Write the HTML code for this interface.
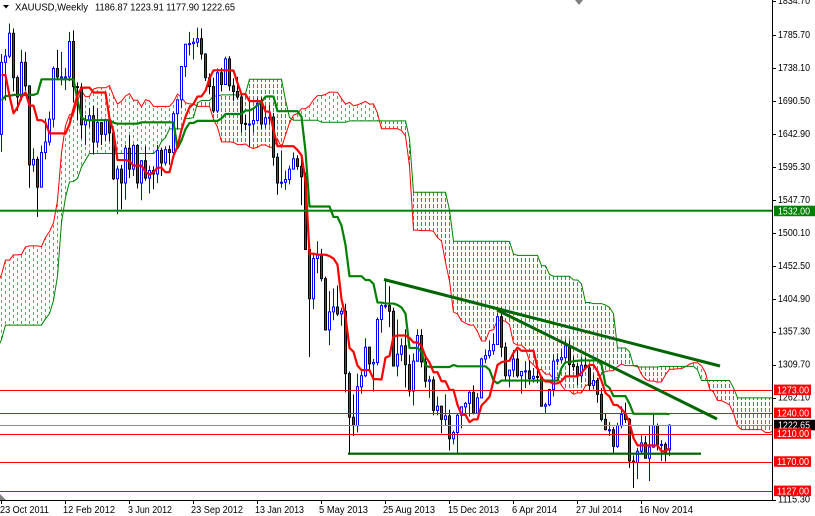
<!DOCTYPE html>
<html><head><meta charset="utf-8">
<style>
html,body{margin:0;padding:0;background:#fff;}
svg{display:block;font-family:"Liberation Sans",sans-serif;}
</style></head>
<body>
<svg id="c" width="815" height="516" viewBox="0 0 815 516" xmlns="http://www.w3.org/2000/svg">
<defs>
<clipPath id="cp"><rect x="0" y="0" width="772" height="500"/></clipPath>
<pattern id="pg" patternUnits="userSpaceOnUse" x="1" y="0" width="8" height="6">
  <rect x="0" y="0" width="1" height="3" fill="#2fbf62"/>
  <rect x="4" y="3" width="1" height="3" fill="#2fbf62"/>
</pattern>
<pattern id="po" patternUnits="userSpaceOnUse" x="1" y="0" width="4" height="6">
  <rect x="0" y="0" width="1" height="4" fill="#ff4500"/>
</pattern>
</defs>
<rect width="815" height="516" fill="#fff"/>
<g id="chart" clip-path="url(#cp)">
  <g id="cloud"></g>
  <g id="spans"></g>
  <g id="candles"></g>
  <g id="ind"></g>
  <g id="objs">
    <rect x="0" y="209.7" width="772" height="2" fill="#008000"/>
    <rect x="0" y="390" width="772" height="1" fill="#ff0000"/>
    <rect x="0" y="413" width="772" height="1" fill="#ff0000"/>
    <rect x="0" y="425" width="772" height="1" fill="#8c8c8c"/>
    <rect x="0" y="434" width="772" height="1" fill="#ff0000"/>
    <rect x="0" y="462" width="772" height="1" fill="#ff0000"/>
    <rect x="0" y="491" width="772" height="1" fill="#ff0000"/>
    <rect x="348" y="452.6" width="353" height="2.2" fill="#006400"/>
    <line x1="384" y1="279.5" x2="720" y2="366" stroke="#006400" stroke-width="3"/>
    <line x1="497" y1="310" x2="717" y2="419" stroke="#006400" stroke-width="3"/>
  </g>
</g>
<polygon points="575,0 583,0 579,5" fill="#808080"/>
<polygon points="0,494 0,500 6,500" fill="#808080"/>
<rect x="772" y="0" width="1" height="501" fill="#000"/>
<rect x="0" y="500" width="773" height="1" fill="#000"/>
<g id="ticks" fill="#000"></g>
<polygon points="3,5 9,5 6,8.5" fill="#000"/>
<text x="15" y="10.5" font-size="10" textLength="73" lengthAdjust="spacingAndGlyphs" fill="#000">XAUUSD,Weekly</text>
<text x="95" y="10.5" font-size="10" textLength="140" lengthAdjust="spacingAndGlyphs" fill="#000">1186.87 1223.91 1177.90 1222.65</text>
<g font-size="10" fill="#000">
<text x="778" y="3.9" textLength="32" lengthAdjust="spacingAndGlyphs">1834.70</text>
<text x="778" y="37.8" textLength="32" lengthAdjust="spacingAndGlyphs">1785.70</text>
<text x="778" y="70.8" textLength="32" lengthAdjust="spacingAndGlyphs">1738.10</text>
<text x="778" y="103.8" textLength="32" lengthAdjust="spacingAndGlyphs">1690.50</text>
<text x="778" y="136.8" textLength="32" lengthAdjust="spacingAndGlyphs">1642.90</text>
<text x="778" y="169.8" textLength="32" lengthAdjust="spacingAndGlyphs">1595.30</text>
<text x="778" y="202.8" textLength="32" lengthAdjust="spacingAndGlyphs">1547.70</text>
<text x="778" y="235.8" textLength="32" lengthAdjust="spacingAndGlyphs">1500.10</text>
<text x="778" y="268.8" textLength="32" lengthAdjust="spacingAndGlyphs">1452.50</text>
<text x="778" y="301.8" textLength="32" lengthAdjust="spacingAndGlyphs">1404.90</text>
<text x="778" y="334.7" textLength="32" lengthAdjust="spacingAndGlyphs">1357.30</text>
<text x="778" y="367.7" textLength="32" lengthAdjust="spacingAndGlyphs">1309.70</text>
<text x="778" y="400.7" textLength="32" lengthAdjust="spacingAndGlyphs">1262.10</text>
<text x="778" y="502.6" textLength="32" lengthAdjust="spacingAndGlyphs">1115.30</text>
</g>
<rect x="774" y="205.7" width="41" height="10.5" fill="#008000"/>
<text x="778" y="214.3" font-size="10" fill="#fff" textLength="32" lengthAdjust="spacingAndGlyphs">1532.00</text>
<rect x="774" y="384.6" width="37" height="10.5" fill="#ff0000"/>
<text x="777" y="393.3" font-size="10" fill="#fff" textLength="32" lengthAdjust="spacingAndGlyphs">1273.00</text>
<rect x="774" y="407.6" width="37" height="10.5" fill="#ff0000"/>
<text x="777" y="416.3" font-size="10" fill="#fff" textLength="32" lengthAdjust="spacingAndGlyphs">1240.00</text>
<rect x="774" y="419.8" width="41" height="10.5" fill="#000"/>
<text x="778" y="428.5" font-size="10" fill="#fff" textLength="32" lengthAdjust="spacingAndGlyphs">1222.65</text>
<rect x="774" y="428.3" width="37" height="10.5" fill="#ff0000"/>
<text x="777" y="437" font-size="10" fill="#fff" textLength="32" lengthAdjust="spacingAndGlyphs">1210.00</text>
<rect x="774" y="456.3" width="37" height="10.5" fill="#ff0000"/>
<text x="777" y="465" font-size="10" fill="#fff" textLength="32" lengthAdjust="spacingAndGlyphs">1170.00</text>
<rect x="774" y="485.6" width="37" height="10.5" fill="#ff0000"/>
<text x="777" y="494.3" font-size="10" fill="#fff" textLength="32" lengthAdjust="spacingAndGlyphs">1127.00</text>
<g font-size="10" fill="#000">
<text x="0" y="513" textLength="49" lengthAdjust="spacingAndGlyphs">23 Oct 2011</text>
<text x="63" y="513" textLength="52" lengthAdjust="spacingAndGlyphs">12 Feb 2012</text>
<text x="128" y="513" textLength="44" lengthAdjust="spacingAndGlyphs">3 Jun 2012</text>
<text x="191" y="513" textLength="52" lengthAdjust="spacingAndGlyphs">23 Sep 2012</text>
<text x="255" y="513" textLength="49" lengthAdjust="spacingAndGlyphs">13 Jan 2013</text>
<text x="319" y="513" textLength="49" lengthAdjust="spacingAndGlyphs">5 May 2013</text>
<text x="383" y="513" textLength="52" lengthAdjust="spacingAndGlyphs">25 Aug 2013</text>
<text x="448" y="513" textLength="51" lengthAdjust="spacingAndGlyphs">15 Dec 2013</text>
<text x="512" y="513" textLength="45" lengthAdjust="spacingAndGlyphs">6 Apr 2014</text>
<text x="576" y="513" textLength="46" lengthAdjust="spacingAndGlyphs">27 Jul 2014</text>
<text x="639" y="513" textLength="54" lengthAdjust="spacingAndGlyphs">16 Nov 2014</text>
</g>
</svg>
<script>
(function(){
var NS="http://www.w3.org/2000/svg";
function el(tag,attrs,parent){var e=document.createElementNS(NS,tag);for(var a in attrs)e.setAttribute(a,attrs[a]);parent.appendChild(e);return e;}
var pre=[[1210,1160],[1249,1195],[1240,1160],[1215,1165],[1222,1192],
[1250,1210],[1263,1217],[1265,1226],[1262,1200],
[1215,1189],[1218,1189],[1205,1176],[1195,1157],
[1210,1175],[1228,1193],[1237,1215],[1242,1222],[1255,1235],
[1258,1236],[1280,1237],[1300,1270],[1321,1290],
[1350,1310],[1387,1345],[1375,1325],[1360,1318],[1398,1330],
[1424,1380],[1390,1330],[1380,1340],[1420,1360],
[1432,1380],[1405,1372],[1390,1368],[1424,1375],
[1423,1360],[1392,1360],[1375,1335],[1345,1309],[1360,1320],
[1373,1344],[1390,1355],[1415,1380],[1440,1405],
[1445,1410],[1435,1380],[1448,1416],[1447,1410],
[1478,1413],[1490,1455],[1510,1485],[1535,1498],
[1577,1462],[1515,1480],[1510,1475],[1540,1492],[1545,1520],
[1550,1528],[1548,1512],[1560,1495],[1515,1478],
[1545,1482],[1595,1540],[1610,1570],[1630,1596],[1682,1610],
[1815,1648],[1880,1750],[1912,1705],[1890,1810],
[1920,1815],[1860,1765],[1810,1535],[1675,1560],
[1675,1590],[1690,1620],[1680,1603]];
var bars=[
[1642,1758,1617,1746],[1746,1765,1691,1755],[1755,1802,1752,1788],[1788,1795,1704,1724],[1724,1727,1676,1696],
[1696,1764,1691,1746],[1746,1761,1705,1712],[1712,1713,1565,1598],[1598,1622,1588,1606],[1606,1610,1523,1566],
[1566,1626,1566,1616],[1616,1665,1606,1631],[1631,1675,1626,1664],[1664,1740,1652,1737],[1737,1764,1721,1725],
[1725,1761,1713,1725],[1725,1738,1706,1725],[1725,1790,1719,1776],[1776,1792,1688,1711],[1711,1717,1662,1710],
[1710,1716,1636,1656],[1656,1670,1627,1662],[1662,1680,1652,1669],[1669,1683,1613,1631],[1631,1680,1623,1659],
[1659,1660,1627,1642],[1642,1665,1632,1663],[1663,1667,1632,1644],[1644,1649,1576,1578],[1578,1597,1527,1592],
[1592,1598,1534,1572],[1572,1627,1548,1622],[1622,1641,1579,1592],[1592,1628,1582,1626],[1626,1628,1564,1572],
[1572,1605,1547,1604],[1604,1625,1575,1579],[1579,1597,1557,1590],[1590,1596,1563,1585],[1585,1627,1572,1619],
[1619,1623,1582,1601],[1601,1625,1597,1620],[1620,1626,1598,1616],[1616,1675,1614,1672],[1672,1692,1649,1692],
[1692,1740,1680,1740],[1740,1772,1725,1772],[1772,1790,1756,1773],[1773,1781,1750,1775],[1775,1796,1768,1780],
[1780,1795,1750,1758],[1758,1759,1719,1724],[1724,1730,1700,1711],[1711,1724,1673,1676],[1676,1737,1673,1731],
[1731,1738,1704,1714],[1714,1754,1714,1751],[1751,1755,1705,1712],[1712,1723,1690,1704],[1704,1725,1693,1696],
[1696,1700,1645,1658],[1658,1670,1648,1657],[1657,1693,1625,1657],[1657,1679,1645,1662],[1662,1695,1662,1687],
[1687,1695,1650,1657],[1657,1683,1651,1666],[1666,1684,1655,1667],[1667,1673,1597,1609],[1609,1615,1555,1572],
[1572,1619,1565,1573],[1573,1590,1562,1577],[1577,1597,1570,1592],[1592,1616,1594,1607],[1607,1612,1591,1596],
[1596,1605,1540,1581],[1581,1587,1476,1476],[1476,1480,1321,1405],[1405,1469,1390,1463],[1463,1488,1442,1469],
[1469,1477,1430,1434],[1434,1437,1359,1360],[1360,1416,1338,1386],[1386,1420,1374,1393],[1393,1424,1380,1383],
[1383,1392,1366,1387],[1387,1398,1270,1297],[1297,1300,1180,1234],[1234,1267,1207,1222],[1222,1297,1212,1278],
[1278,1300,1268,1294],[1294,1348,1292,1335],[1335,1336,1301,1311],[1311,1318,1271,1313],[1313,1378,1309,1375],
[1375,1397,1356,1395],[1395,1433,1391,1395],[1395,1423,1364,1387],[1387,1392,1308,1308],[1308,1375,1293,1325],
[1325,1348,1315,1337],[1337,1361,1277,1310],[1310,1324,1264,1272],[1272,1326,1251,1315],[1315,1361,1314,1352],
[1352,1361,1306,1314],[1314,1322,1277,1286],[1286,1294,1262,1288],[1288,1293,1237,1244],[1244,1264,1237,1250],
[1250,1251,1211,1231],[1231,1267,1222,1236],[1236,1245,1186,1203],[1203,1215,1195,1212],[1212,1239,1182,1237],
[1237,1250,1218,1249],[1249,1256,1236,1254],[1254,1272,1235,1270],[1270,1280,1238,1240],[1240,1269,1239,1262],
[1262,1320,1262,1318],[1318,1332,1312,1323],[1323,1345,1319,1330],[1330,1355,1324,1339],[1339,1384,1339,1379],
[1379,1392,1321,1335],[1335,1342,1288,1294],[1294,1300,1277,1302],[1302,1331,1292,1318],[1318,1331,1291,1294],
[1294,1300,1268,1300],[1300,1315,1276,1301],[1301,1316,1281,1290],[1290,1305,1284,1293],[1293,1304,1283,1292],
[1292,1294,1250,1250],[1250,1255,1240,1252],[1252,1275,1250,1274],[1274,1325,1264,1315],[1315,1326,1309,1317],
[1317,1332,1312,1320],[1320,1346,1315,1337],[1337,1345,1293,1310],[1310,1322,1301,1307],[1307,1312,1281,1294],
[1294,1321,1284,1309],[1309,1320,1304,1305],[1305,1309,1273,1280],[1280,1296,1274,1287],[1287,1291,1255,1267],
[1267,1276,1228,1231],[1231,1240,1216,1216],[1216,1227,1207,1216],[1216,1220,1183,1192],[1192,1226,1190,1222],
[1222,1250,1218,1238],[1238,1255,1226,1231],[1231,1233,1161,1171],[1171,1179,1132,1169],[1169,1190,1145,1185],
[1185,1208,1180,1197],[1197,1207,1175,1175],[1175,1222,1142,1191],[1191,1238,1190,1222],[1222,1225,1186,1195],
[1195,1201,1171,1195],[1195,1198,1170,1184],[1186.87,1223.91,1177.90,1222.65]];
var OFF=pre.length, N=bars.length;
var HH=[],LL=[];
pre.forEach(function(p){HH.push(p[0]);LL.push(p[1]);});
bars.forEach(function(b){HH.push(b[1]);LL.push(b[2]);});
function mid(i,n){var hi=-1e9,lo=1e9;for(var j=Math.max(0,i-n+1);j<=i;j++){if(HH[j]>hi)hi=HH[j];if(LL[j]<lo)lo=LL[j];}return (hi+lo)/2;}
function X(k){return 1+4*k;}
function Y(p){return 34.8+(1785.7-p)*0.69328;}
function f(v){return Math.round(v*100)/100;}
var cloud=document.getElementById('cloud'), spans=document.getElementById('spans');
var aPts=[],bPts=[];
for(var k=-2;k<=N-1+26;k++){
  var i=k-26+OFF; if(i<0)continue;
  var a=(mid(i,9)+mid(i,26))/2, b=mid(i,52);
  var x=X(k), ya=Y(a), yb=Y(b);
  var top=Math.round(Math.min(ya,yb)), bot=Math.round(Math.max(ya,yb));
  if(bot>top) el('rect',{x:x,y:top,width:1,height:bot-top,fill:(a>=b?'url(#pg)':'url(#po)')},cloud);
  aPts.push(f(x+0.5)+','+f(ya)); bPts.push(f(x+0.5)+','+f(yb));
}
el('polyline',{points:aPts.join(' '),stroke:'#ff0000','stroke-width':1,fill:'none'},spans);
el('polyline',{points:bPts.join(' '),stroke:'#008000','stroke-width':1,fill:'none'},spans);
var cg=document.getElementById('candles');
var wb='',wk='',bodyB='',bodyR='';
for(var k=0;k<N;k++){
  var b=bars[k],x=X(k);
  var yh=Y(b[1]),yl=Y(b[2]),yo=Y(b[0]),yc=Y(b[3]);
  var top=Math.min(yo,yc),bot=Math.max(yo,yc); if(bot-top<1)bot=top+1;
  var w='M'+(x+0.5)+' '+f(yh)+'V'+f(yl);
  var r='M'+(x-0.5)+' '+f(top)+'H'+(x+1.5)+'V'+f(bot)+'H'+(x-0.5)+'Z';
  if(b[3]>=b[0]){wb+=w;bodyB+=r;}else{wk+=w;bodyR+=r;}
}
el('path',{d:wb,stroke:'#0000ff','stroke-width':1,fill:'none'},cg);
el('path',{d:wk,stroke:'#000','stroke-width':1,fill:'none'},cg);
el('path',{d:bodyB,stroke:'#0000ff','stroke-width':1,fill:'#fff'},cg);
el('path',{d:bodyR,stroke:'#000','stroke-width':1,fill:'#ff0000'},cg);
var ind=document.getElementById('ind');
var tP=[],kP=[];
for(var k=0;k<N;k++){var i=k+OFF;tP.push(f(X(k)+0.5)+','+f(Y(mid(i,9))));kP.push(f(X(k)+0.5)+','+f(Y(mid(i,26))));}
el('polyline',{points:kP.join(' '),stroke:'#008000','stroke-width':2.2,fill:'none','stroke-linejoin':'round'},ind);
el('polyline',{points:tP.join(' '),stroke:'#ff0000','stroke-width':2.2,fill:'none','stroke-linejoin':'round'},ind);
var tg=document.getElementById('ticks');
var pt=[0.8,34.8,67.8,100.8,133.8,166.8,199.8,232.8,265.8,298.8,331.7,364.7,397.7,499.6];
pt.forEach(function(y){el('rect',{x:773,y:Math.round(y),width:3,height:1},tg);});
for(var j=0;j<11;j++){el('rect',{x:1+64*j,y:501,width:1,height:3},tg);}
})();
</script>
</body></html>
